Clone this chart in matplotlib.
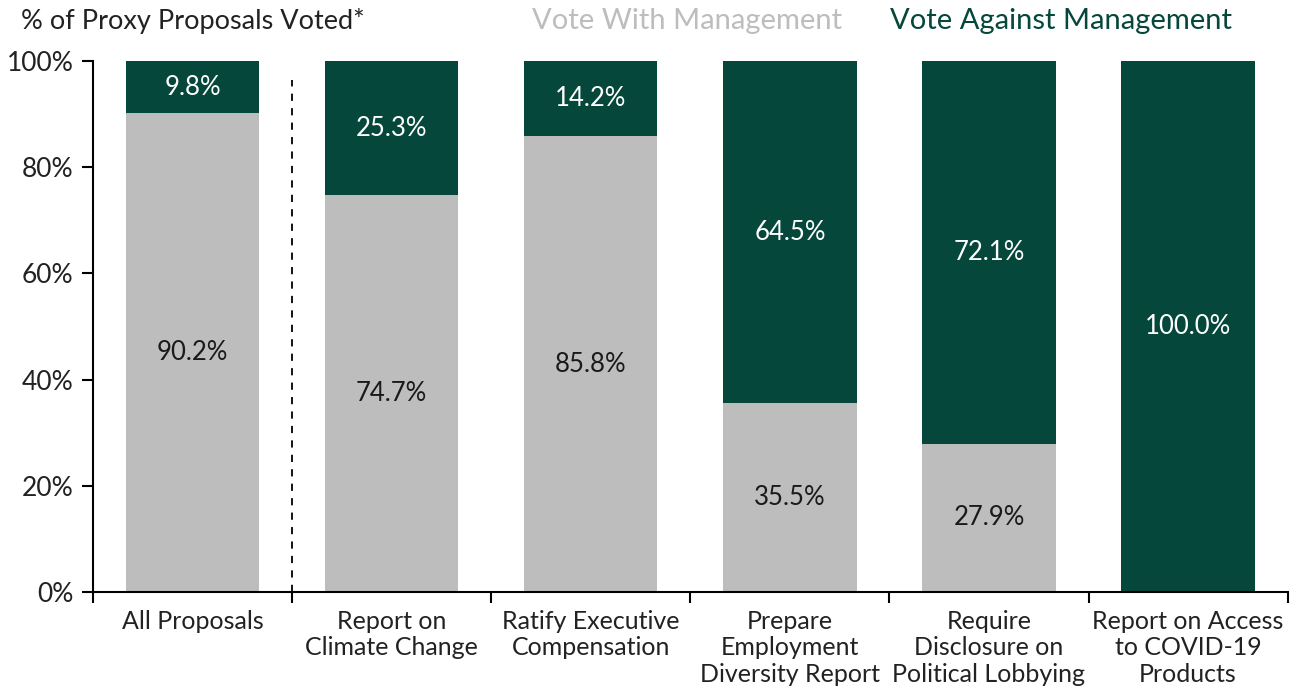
import numpy as np
import matplotlib.pyplot as plt

categories = ["All Proposals", "Report on\nClimate Change", "Ratify Executive\nCompensation",
              "Prepare\nEmployment\nDiversity Report", "Require\nDisclosure on\nPolitical Lobbying",
              "Report on Access\nto COVID-19\nProducts"]
with_mgmt = [90.2, 74.7, 85.8, 35.5, 27.9, 0.0]
against_mgmt = [9.8, 25.3, 14.2, 64.5, 72.1, 100.0]

GREY = "#bcbdbc"
GREEN = "#05473a"

plt.rcParams['font.family'] = ['Lato', 'DejaVu Sans']

fig = plt.figure(figsize=(12.98, 6.91), dpi=100)
ax = fig.add_axes([0.0717, 0.1433, 0.9203, 0.7684])

x = np.arange(len(categories))
w = 0.67
ax.bar(x, with_mgmt, w, color=GREY)
ax.bar(x, against_mgmt, w, bottom=with_mgmt, color=GREEN)

for i in range(len(categories)):
    if with_mgmt[i] > 0:
        ax.text(x[i], with_mgmt[i] / 2, f"{with_mgmt[i]:.1f}%", ha="center", va="center",
                fontsize=18.5, color="#1a1a1a")
    ax.text(x[i], with_mgmt[i] + against_mgmt[i] / 2, f"{against_mgmt[i]:.1f}%",
            ha="center", va="center", fontsize=18.5, color="white")

# separator between overall and individual proposals
ax.plot([0.5, 0.5], [0, 96.5], ls=(0, (4, 4)), color="black", lw=1.3)

ax.set_xlim(-0.5, 5.5)
ax.set_ylim(0, 100)
ax.set_yticks(np.arange(0, 101, 20))
ax.set_yticklabels([f"{v}%" for v in range(0, 101, 20)], fontsize=19, color="#222222")
ax.set_xticks(x)
ax.set_xticklabels(categories, fontsize=18, color="#222222", linespacing=1.18)
ax.tick_params(axis="x", length=0, pad=13)
ax.set_xticks(np.arange(-0.5, 5.6, 1), minor=True)
ax.tick_params(axis="x", which="minor", length=8, width=1.5, direction="out")
ax.tick_params(axis="y", length=8, width=1.5, pad=6)
for s in ["top", "right"]:
    ax.spines[s].set_visible(False)
ax.spines["left"].set_linewidth(1.5)
ax.spines["bottom"].set_linewidth(1.5)

fig.text(0.016, 0.97, "% of Proxy Proposals Voted*", fontsize=19.5, color="#222222", va="center")
fig.text(0.41, 0.97, "Vote With Management", fontsize=21, color=GREY, va="center")
fig.text(0.686, 0.97, "Vote Against Management", fontsize=21, color=GREEN, va="center")

fig.savefig("out.png", dpi=100)
